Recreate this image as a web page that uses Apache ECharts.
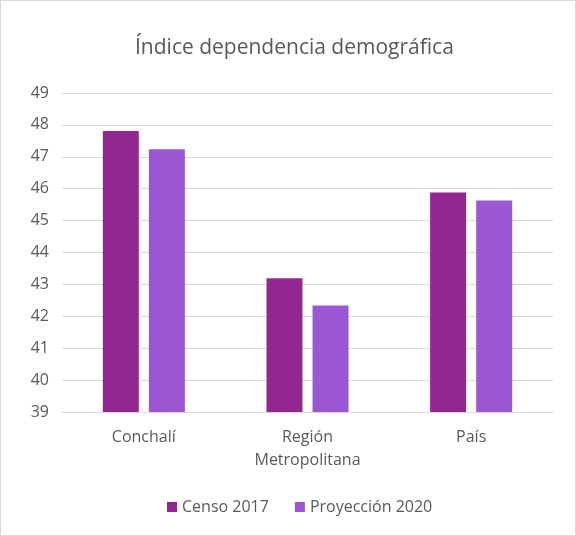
<!DOCTYPE html>
<html><head><meta charset="utf-8">
<script src="https://cdn.jsdelivr.net/npm/echarts@6/dist/echarts.min.js"></script>
<style>html,body{margin:0;padding:0;background:#fff}
#c{position:absolute;left:0;top:0;width:574px;height:534px;border:1px solid #d9d9d9;}</style>
</head><body><div id="c"></div>
<script>
const categories = ['Conchalí', 'Región\nMetropolitana', 'País'];
const censo2017 = [47.81, 43.19, 45.88];
const proyeccion2020 = [47.24, 42.34, 45.63];
const seriesNames = ['Censo 2017', 'Proyección 2020'];
const chart = echarts.init(document.getElementById('c'));
const font = '"Open Sans", "Noto Sans", sans-serif';
chart.setOption({
  animation: false,
  title: {text: 'Índice dependencia demográfica', left: 129, top: 32,
    textStyle: {fontFamily: font, fontSize: 21, fontWeight: 'normal', color: '#595959'}},
  legend: {bottom: 15, left: 161, itemWidth: 10, itemHeight: 10, icon: 'rect', itemGap: 26,
    textStyle: {fontFamily: font, fontSize: 16, color: '#595959'}},
  grid: {left: 61, right: 22, top: 92, bottom: 123},
  xAxis: {type: 'category', data: categories,
    axisLine: {lineStyle: {color: '#d9d9d9'}}, axisTick: {show: false},
    axisLabel: {fontFamily: font, fontSize: 16, color: '#595959', margin: 14, lineHeight: 23}},
  yAxis: {type: 'value', min: 39, max: 49, interval: 1,
    axisLine: {show: false}, axisTick: {show: false},
    splitLine: {lineStyle: {color: '#d9d9d9'}},
    axisLabel: {fontFamily: font, fontSize: 16, color: '#595959', margin: 13}},
  series: [
    {name: seriesNames[0], type: 'bar', data: censo2017, barWidth: 36, barGap: '28%',
      itemStyle: {color: '#92278F'}},
    {name: seriesNames[1], type: 'bar', data: proyeccion2020, barWidth: 36,
      itemStyle: {color: '#9B57D3'}}
  ]
});
</script></body></html>
